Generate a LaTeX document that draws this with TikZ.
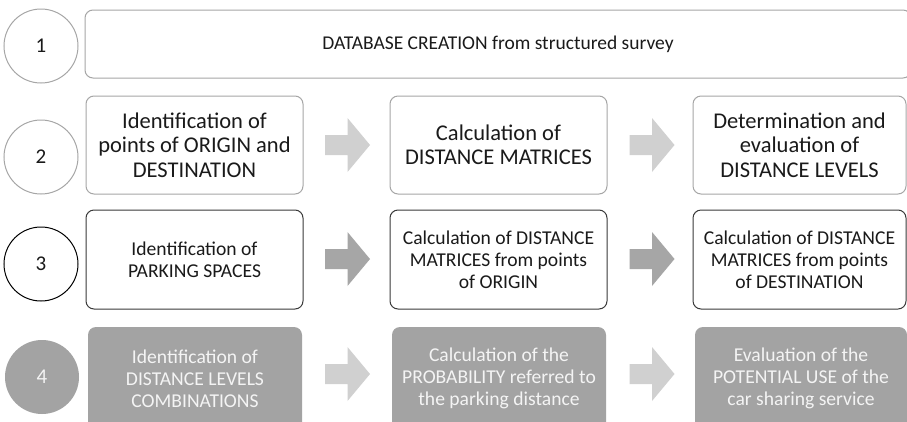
\documentclass[tikz,border=0pt]{standalone}
\usepackage{fontspec}
\setmainfont{Carlito}
\definecolor{lightline}{HTML}{A6A6A6}
\definecolor{darkline}{HTML}{3A3A3A}
\definecolor{paleshape}{HTML}{D0D0D0}
\definecolor{midshape}{HTML}{A6A6A6}
\definecolor{fillgray}{HTML}{A3A3A3}
\definecolor{whitetext}{HTML}{F4F4F4}
\definecolor{inktext}{HTML}{1A1A1A}
\tikzset{
  x=1pt, y=-1pt,
  stepcircle/.style={circle, minimum size=74pt, inner sep=0pt, line width=1pt, font=\fontsize{21}{24}\selectfont, text=inktext},
  stepbox/.style={rounded corners=8pt, line width=1pt, align=center, inner sep=0pt, minimum width=217pt, text=inktext},
  lightrow/.style={draw=lightline},
  darkrow/.style={draw=darkline},
  filledrow/.style={fill=fillgray, text=whitetext},
  bigtext/.style={font=\fontsize{22.5}{24.5}\selectfont},
  midtext/.style={font=\fontsize{19.6}{22}\selectfont},
  fatarrow/.pic={\fill (-22.5,-10) -- (0,-10) -- (0,-27) -- (22.5,0) -- (0,27) -- (0,10) -- (-22.5,10) -- cycle;}
}
\begin{document}
\begin{tikzpicture}
\useasboundingbox (0,0) rectangle (907,421);
\clip (0,0) rectangle (907,421);
\fill[white] (0,0) rectangle (907,421);

% step 1
\node[stepcircle, draw=lightline] (c1) at (41,46) {1};
\node[stepbox, lightrow, minimum width=826pt, minimum height=68pt, font=\fontsize{19.5}{22}\selectfont] (b1) at (498,44) {DATABASE CREATION from structured survey};

% step 2
\node[stepcircle, draw=lightline] (c2) at (41,157) {2};
\node[stepbox, lightrow, bigtext, minimum height=98pt] (a2) at (194.5,145) {Identification of\\points of ORIGIN and\\DESTINATION};
\node[stepbox, lightrow, bigtext, minimum height=98pt] (m2) at (498.5,145) {Calculation of\\DISTANCE MATRICES};
\node[stepbox, lightrow, bigtext, minimum height=98pt, minimum width=213pt] (z2) at (799.5,145) {Determination and\\evaluation of\\DISTANCE LEVELS};
\pic[paleshape] at (347.5,145) {fatarrow};
\pic[paleshape] at (652,145) {fatarrow};

% step 3
\node[stepcircle, draw=black] (c3) at (41,264) {3};
\node[stepbox, darkrow, midtext, minimum height=99pt] (a3) at (194.5,259.5) {Identification of\\PARKING SPACES};
\node[stepbox, darkrow, midtext, minimum height=99pt] (m3) at (498.5,259.5) {Calculation of DISTANCE\\MATRICES from points\\of ORIGIN};
\node[stepbox, darkrow, midtext, minimum height=99pt, minimum width=213pt] (z3) at (799.5,259.5) {Calculation of DISTANCE\\MATRICES from points\\of DESTINATION};
\pic[midshape] at (347.5,259) {fatarrow};
\pic[midshape] at (652,259) {fatarrow};

% step 4
\node[stepcircle, fill=fillgray, text=whitetext] (c4) at (42,377) {4};
\node[stepbox, filledrow, midtext, minimum width=214pt, minimum height=103pt] (a4) at (195,378.5) {Identification of\\DISTANCE LEVELS\\COMBINATIONS};
\node[stepbox, filledrow, midtext, minimum width=214pt, minimum height=103pt] (m4) at (499,378.5) {Calculation of the\\PROBABILITY referred to\\the parking distance};
\node[stepbox, filledrow, midtext, minimum width=212pt, minimum height=103pt] (z4) at (801,378.5) {Evaluation of the\\POTENTIAL USE of the\\car sharing service};
\pic[paleshape] at (347.5,374) {fatarrow};
\pic[paleshape] at (652,374) {fatarrow};
\end{tikzpicture}
\end{document}
